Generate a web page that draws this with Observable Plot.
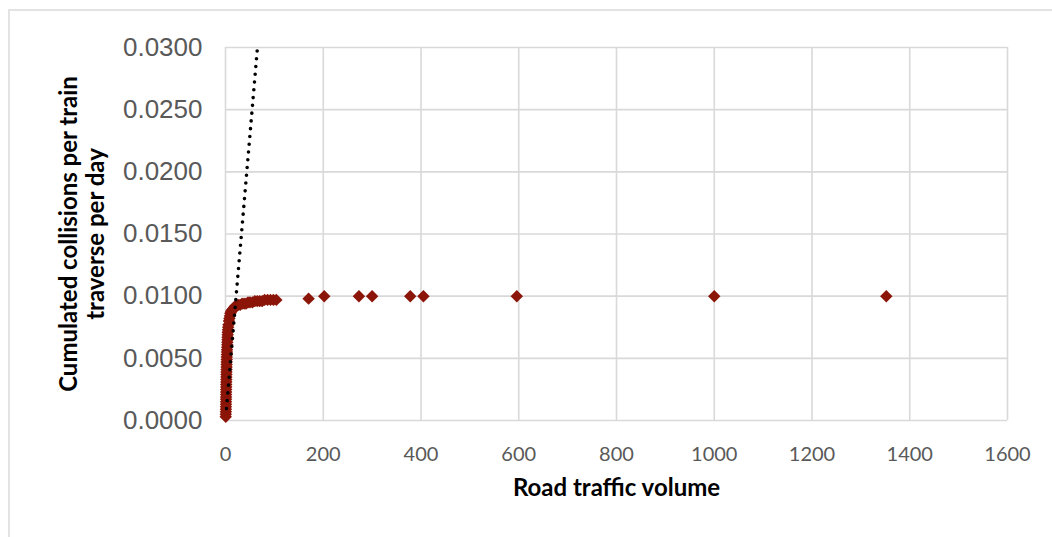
<!DOCTYPE html>
<html>
<head>
<meta charset="utf-8">
<script src="https://cdn.jsdelivr.net/npm/d3@7"></script>
<script src="https://cdn.jsdelivr.net/npm/@observablehq/plot@0.6"></script>
<style>
  html, body { margin: 0; padding: 0; background: #fff; overflow: hidden; }
  #wrap { position: relative; width: 1052px; height: 537px; }
  #border { position: absolute; left: 8px; top: 9px; right: -10px; bottom: -10px;
            border-left: 2px solid #e3e3e3; border-top: 2px solid #e3e3e3; }
  #chart { position: absolute; left: 0; top: 0; }
</style>
</head>
<body>
<div id="wrap"><div id="border"></div><div id="chart"></div></div>
<script>
// Road traffic volume (x) and cumulated collisions per train traverse per day (y)
const volume = [
  0.5,0.6,0.7,0.8,0.9,1.0,1.0,1.1,1.2,1.2,1.3,1.4,1.5,1.5,1.6,1.7,1.8,1.9,2.0,2.1,
  2.2,2.3,2.4,2.5,2.6,2.8,3.0,3.2,3.4,3.6,3.8,4.0,4.2,4.4,4.6,
  5.0,5.5,6.0,7.0,8.0,9.0,10,11,12,14,16,18,20,
  23,26,30,34,38,42,46,50,55,60,65,70,75,80,86,92,98,104,
  170,202,273,300,378,405,596,1000,1352
];
const collisions = [
  0.0003,0.0005,0.0007,0.0009,0.0011,0.0013,0.0015,0.0017,0.0019,0.0021,0.0023,0.0025,0.0027,0.0029,0.0031,0.0033,0.0035,0.0037,0.0039,0.0041,
  0.0043,0.0045,0.0047,0.0049,0.0051,0.0053,0.0055,0.0057,0.0059,0.0061,0.0063,0.0065,0.0067,0.0069,0.0071,
  0.0073,0.0075,0.0077,0.0080,0.0082,0.0084,0.0086,0.0087,0.0088,0.0089,0.0090,0.0091,0.0092,
  0.0092,0.0093,0.0093,0.0094,0.0094,0.0094,0.0095,0.0095,0.0095,0.0096,0.0096,0.0096,0.0096,0.0097,0.0097,0.0097,0.0097,0.0097,
  0.0098,0.0100,0.0100,0.0100,0.0100,0.0100,0.0100,0.0100,0.0100
];
// Linear trendline (dotted)
const trendSlope = 0.000458;
const trendIntercept = 0.000054;
const trendRange = [2, 1600];

const xTicks = [0, 200, 400, 600, 800, 1000, 1200, 1400, 1600];
const yTicks = [0, 0.005, 0.010, 0.015, 0.020, 0.025, 0.030];
const xTitle = "Road traffic volume";
const yTitle = "Cumulated collisions per train\ntraverse per day";

const points = volume.map((v, i) => ({x: v, y: collisions[i]}));
const trend = trendRange.map(x => ({x, y: trendIntercept + trendSlope * x}));

const grid = "#d9d9d9";
const red = "#8b1508";

const chart = Plot.plot({
  width: 1052,
  height: 537,
  marginLeft: 225,
  marginRight: 45,
  marginTop: 47,
  marginBottom: 117,
  style: {background: "transparent", overflow: "visible"},
  x: {domain: [0, 1600], ticks: xTicks},
  y: {domain: [0, 0.03], ticks: yTicks},
  marks: [
    Plot.gridX(xTicks, {stroke: grid, strokeOpacity: 1, strokeWidth: 1.6}),
    Plot.gridY(yTicks, {stroke: grid, strokeOpacity: 1, strokeWidth: 1.6}),
    Plot.axisY(yTicks, {tickSize: 0, tickPadding: 23, tickFormat: d3.format(".4f"),
      fontSize: 26, fontFamily: "Liberation Sans, Arial, sans-serif", fill: "#595959", label: null}),
    Plot.axisX(xTicks, {tickSize: 0, tickPadding: 26, tickFormat: d => String(d),
      fontSize: 20, fontFamily: "Lato, sans-serif", fill: "#595959", label: null}),
    Plot.dot(points, {x: "x", y: "y", symbol: "diamond2", r: 5.6, fill: red, stroke: "none"}),
    Plot.line(trend, {x: "x", y: "y", stroke: "#000", strokeWidth: 3.6,
      strokeDasharray: "0,7.8", strokeLinecap: "round", clip: true}),
    Plot.text([xTitle], {frameAnchor: "bottom", dy: 75, fontSize: 24, fontWeight: "bold",
      fontFamily: "Lato, sans-serif", fill: "#000"}),
    Plot.text([yTitle], {frameAnchor: "left", textAnchor: "middle", dx: -144, rotate: -90,
      fontSize: 24, fontWeight: "bold", lineHeight: 1.15, fontFamily: "Lato, sans-serif", fill: "#000"})
  ]
});
document.getElementById("chart").appendChild(chart);
</script>
</body>
</html>
